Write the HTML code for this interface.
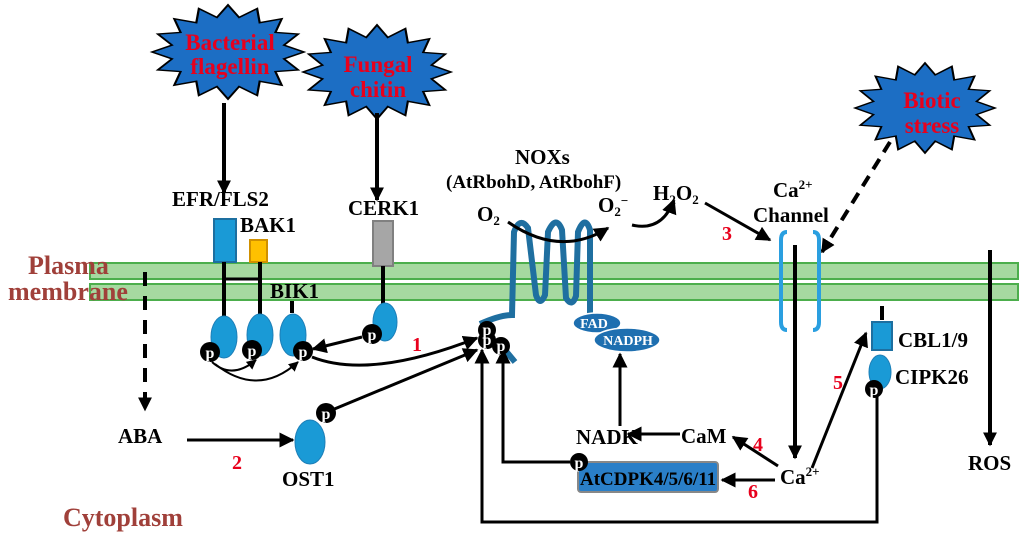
<!DOCTYPE html>
<html><head><meta charset="utf-8"><style>
html,body{margin:0;padding:0;background:#fff}
svg{display:block}
text{font-family:"Liberation Serif",serif;font-weight:bold}
</style></head><body>
<svg width="1024" height="539" viewBox="0 0 1024 539" xmlns="http://www.w3.org/2000/svg">
<defs>
<marker id="a" viewBox="0 0 10 10" refX="9" refY="5" markerWidth="5" markerHeight="5" orient="auto-start-reverse" markerUnits="strokeWidth"><path d="M0,0 L10,5 L0,10 z" fill="#000"/></marker>
<marker id="b" viewBox="0 0 10 10" refX="9" refY="5" markerWidth="3.5" markerHeight="3.5" orient="auto" markerUnits="strokeWidth"><path d="M0,0 L10,5 L0,10 z" fill="#000"/></marker>
<polygon id="star" points="1,0 0.736,0.146 0.924,0.383 0.624,0.417 0.707,0.707 0.417,0.624 0.383,0.924 0.146,0.736 0,1 -0.146,0.736 -0.383,0.924 -0.417,0.624 -0.707,0.707 -0.624,0.417 -0.924,0.383 -0.736,0.146 -1,0 -0.736,-0.146 -0.924,-0.383 -0.624,-0.417 -0.707,-0.707 -0.417,-0.624 -0.383,-0.924 -0.146,-0.736 0,-1 0.146,-0.736 0.383,-0.924 0.417,-0.624 0.707,-0.707 0.624,-0.417 0.924,-0.383 0.736,-0.146"/>
</defs>
<use href="#star" transform="translate(228,52) scale(76,47)" fill="#1c6ec4" stroke="#000" stroke-width="0.03"/>
<use href="#star" transform="translate(377,72) scale(74,47)" fill="#1c6ec4" stroke="#000" stroke-width="0.03"/>
<use href="#star" transform="translate(925,108) scale(70,45)" fill="#1c6ec4" stroke="#000" stroke-width="0.03"/>
<g fill="#e8001c" font-size="23" text-anchor="middle">
<text x="230" y="50">Bacterial</text><text x="230" y="74">flagellin</text>
<text x="378" y="72">Fungal</text><text x="378" y="97">chitin</text>
<text x="932" y="108">Biotic</text><text x="932" y="133">stress</text>
</g>
<rect x="90" y="263" width="928" height="16" fill="#a6d9a0" stroke="#4cae4c" stroke-width="2"/>
<rect x="90" y="284" width="928" height="16" fill="#a6d9a0" stroke="#4cae4c" stroke-width="2"/>
<g fill="#a0403a" font-size="26">
<text x="28" y="274">Plasma</text><text x="8" y="300">membrane</text>
<text x="63" y="526">Cytoplasm</text>
</g>
<g stroke="#000" stroke-width="4" fill="none">
<line x1="224" y1="103" x2="224" y2="193" marker-end="url(#b)"/>
<line x1="377" y1="113" x2="377" y2="200" marker-end="url(#b)"/>
<line x1="890" y1="142" x2="822" y2="252" stroke-dasharray="12,8" marker-end="url(#b)"/>
<line x1="145" y1="272" x2="145" y2="410" stroke-dasharray="14,10" marker-end="url(#b)"/>
</g>
<rect x="214" y="219" width="22" height="43" fill="#1a9ad6" stroke="#1d6fa0" stroke-width="2"/>
<rect x="250" y="240" width="17" height="22" fill="#ffc000" stroke="#d09000" stroke-width="2"/>
<rect x="373" y="221" width="20" height="45" fill="#a6a6a6" stroke="#808080" stroke-width="2"/>
<g stroke="#000" stroke-width="4">
<line x1="224" y1="262" x2="224" y2="318"/><line x1="260" y1="262" x2="260" y2="316"/>
<line x1="224" y1="279" x2="260" y2="279" stroke-width="3"/>
<line x1="292" y1="301" x2="292" y2="313"/><line x1="383" y1="266" x2="383" y2="305"/>
<line x1="882" y1="306" x2="882" y2="320"/>
</g>
<g fill="#1a9ad6" stroke="#1d7fb8" stroke-width="1">
<ellipse cx="224" cy="337" rx="13" ry="21"/><ellipse cx="260" cy="335" rx="13" ry="21"/>
<ellipse cx="293" cy="335" rx="13" ry="21"/><ellipse cx="385" cy="322" rx="12" ry="19"/>
<ellipse cx="310" cy="442" rx="15" ry="22"/><ellipse cx="880" cy="372" rx="11" ry="17"/>
</g>
<rect x="872" y="322" width="20" height="28" fill="#1a9ad6" stroke="#1d6fa0" stroke-width="2"/>
<path d="M515,362 L505,350 M480,324 Q500,315 512,315 L514,232 Q520,216 528,228 L536,295 Q540,307 545,295 L548,232 Q556,214 562,230 L566,298 Q572,308 576,296 L578,232 Q585,214 590,230 L590,318" stroke="#1f6fa0" stroke-width="6" fill="none"/>
<ellipse cx="597" cy="323" rx="24" ry="10" fill="#1e6fb0" stroke="#fff" stroke-width="1.5"/>
<ellipse cx="627" cy="340" rx="33" ry="12" fill="#1e6fb0" stroke="#fff" stroke-width="1.5"/>
<g fill="#fff" font-size="14" text-anchor="middle"><text x="594" y="328">FAD</text><text x="628" y="345">NADPH</text></g>
<g stroke="#2a9fe0" stroke-width="4" fill="none">
<path d="M787,232 Q781,232 781,240 L781,322 Q781,330 787,330"/>
<path d="M813,232 Q819,232 819,240 L819,322 Q819,330 813,330"/>
</g>
<rect x="578" y="462" width="140" height="30" rx="3" fill="#2a7fc8" stroke="#888" stroke-width="2"/>
<g stroke="#000" stroke-width="3" fill="none">
<path d="M508,222 Q560,258 608,228" marker-end="url(#a)"/>
<path d="M632,225 Q662,232 674,200" marker-end="url(#a)"/>
<line x1="705" y1="203" x2="770" y2="240" marker-end="url(#a)"/>
<line x1="795" y1="245" x2="795" y2="458" stroke-width="4" marker-end="url(#b)"/>
<line x1="990" y1="250" x2="990" y2="445" stroke-width="4" marker-end="url(#b)"/>
<path d="M877,392 L877,522 L482,522 L482,350" marker-end="url(#a)"/>
<path d="M570,462 L503,462 L503,350" marker-end="url(#a)"/>
<line x1="812" y1="468" x2="866" y2="333" marker-end="url(#a)"/>
<line x1="778" y1="466" x2="733" y2="437" marker-end="url(#a)"/>
<line x1="680" y1="434" x2="628" y2="434" marker-end="url(#a)"/>
<line x1="620" y1="426" x2="620" y2="354" marker-end="url(#a)"/>
<line x1="775" y1="480" x2="722" y2="480" marker-end="url(#a)"/>
<line x1="187" y1="440" x2="293" y2="440" marker-end="url(#a)"/>
<line x1="332" y1="410" x2="477" y2="350" marker-end="url(#a)"/>
<line x1="362" y1="337" x2="313" y2="349" marker-end="url(#a)"/>
<path d="M312,357 Q370,380 477,338" marker-end="url(#a)"/>
<path d="M212,362 Q232,380 256,360" stroke-width="2" marker-end="url(#a)"/>
<path d="M215,364 Q258,398 298,362" stroke-width="2" marker-end="url(#a)"/>
</g>
<g fill="#000">
<circle cx="210" cy="352" r="10"/><circle cx="252" cy="350" r="10"/><circle cx="303" cy="351" r="10"/>
<circle cx="372" cy="334" r="10"/><circle cx="326" cy="413" r="10"/>
<circle cx="487" cy="330" r="9"/><circle cx="487" cy="340" r="9"/><circle cx="501" cy="346" r="9"/>
<circle cx="579" cy="462" r="9"/><circle cx="874" cy="389" r="9"/>
</g>
<g fill="#fff" font-size="16" text-anchor="middle">
<text x="210" y="358">p</text><text x="252" y="356">p</text><text x="303" y="357">p</text>
<text x="372" y="340">p</text><text x="326" y="419">p</text>
<text x="487" y="335">p</text><text x="487" y="345">p</text><text x="501" y="351">p</text>
<text x="579" y="468">p</text><text x="874" y="395">p</text>
</g>
<g fill="#000" font-size="21">
<text x="172" y="206">EFR/FLS2</text><text x="240" y="232">BAK1</text>
<text x="348" y="215">CERK1</text><text x="270" y="298">BIK1</text>
<text x="515" y="164">NOXs</text>
<text x="446" y="188" font-size="19">(AtRbohD, AtRbohF)</text>
<text x="477" y="221">O<tspan font-size="13" dy="4">2</tspan></text>
<text x="598" y="212">O<tspan font-size="13" dy="4">2</tspan><tspan font-size="13" dy="-11">−</tspan></text>
<text x="653" y="200">H<tspan font-size="13" dy="4">2</tspan><tspan dy="-4">O</tspan><tspan font-size="13" dy="4">2</tspan></text>
<text x="773" y="197">Ca<tspan font-size="13" dy="-8">2+</tspan></text>
<text x="753" y="222">Channel</text>
<text x="898" y="347">CBL1/9</text><text x="895" y="384">CIPK26</text>
<text x="968" y="470">ROS</text><text x="118" y="443">ABA</text>
<text x="282" y="486">OST1</text>
<text x="576" y="444">NADK</text><text x="681" y="443">CaM</text>
<text x="780" y="484">Ca<tspan font-size="13" dy="-8">2+</tspan></text>
<text x="580" y="485" font-size="19">AtCDPK4/5/6/11</text>
</g>
<g fill="#e8001c" font-size="20">
<text x="412" y="351">1</text><text x="232" y="469">2</text><text x="722" y="240">3</text>
<text x="753" y="451">4</text><text x="833" y="389">5</text><text x="748" y="498">6</text>
</g>
</svg>
</body></html>
